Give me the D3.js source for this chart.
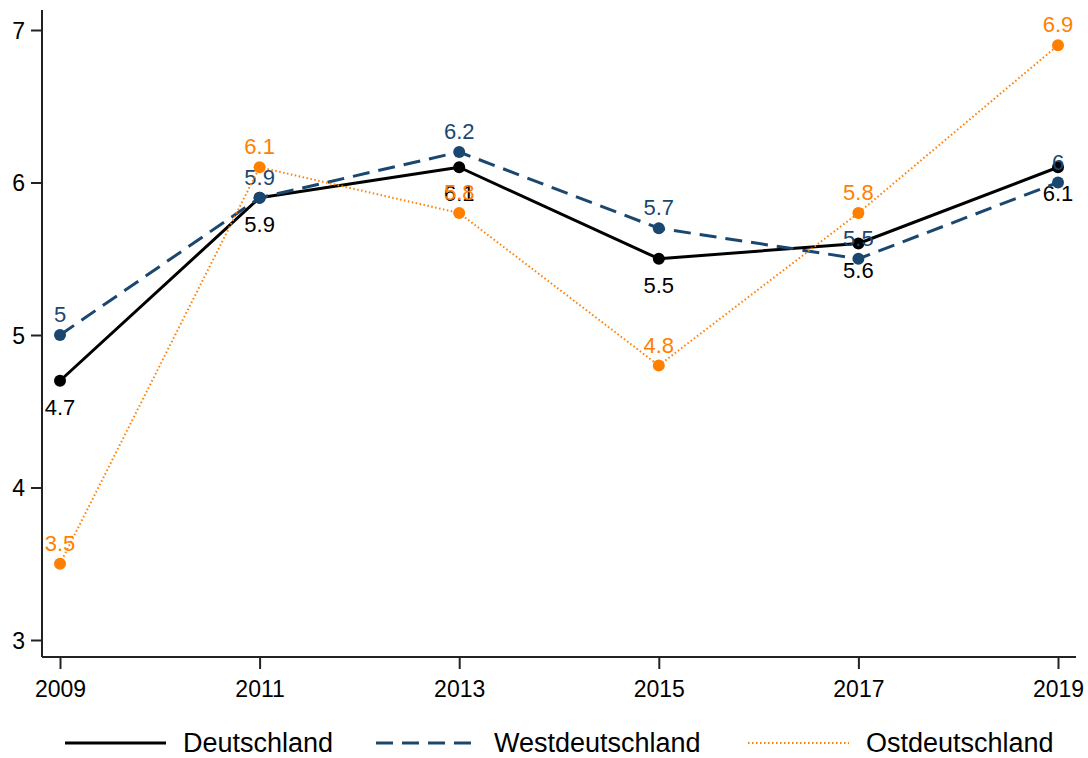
<!DOCTYPE html>
<html>
<head>
<meta charset="utf-8">
<script src="https://cdn.jsdelivr.net/npm/d3@7"></script>
<style>
    body { margin: 0; background: #fff; }
    svg { display: block; font-family: "Liberation Sans", Arial, sans-serif; }
</style>
</head>
<body>
<svg id="chart" width="1088" height="758"></svg>
<script>
// data
const years = [2009, 2011, 2013, 2015, 2017, 2019];
const deutschland = [4.7, 5.9, 6.1, 5.5, 5.6, 6.1];
const westdeutschland = [5.0, 5.9, 6.2, 5.7, 5.5, 6.0];
const ostdeutschland = [3.5, 6.1, 5.8, 4.8, 5.8, 6.9];
const yTicks = [3, 4, 5, 6, 7];

const series = [
    { name: "Deutschland", values: deutschland, color: "#000000", width: 3, dash: null, labelPos: "below" },
    { name: "Westdeutschland", values: westdeutschland, color: "#1a476f", width: 3, dash: "17,9", labelPos: "above" },
    { name: "Ostdeutschland", values: ostdeutschland, color: "#ff7f00", width: 2, dash: "1.5,2.5", labelPos: "above" }
];

const svg = d3.select("#chart");

const xScale = d3.scaleLinear().domain([2009, 2019]).range([60, 1058]);
const yScale = d3.scaleLinear().domain([3, 7]).range([640, 30]);

// axes
const xAxis = svg.append("g")
    .attr("transform", "translate(0,657)")
    .call(d3.axisBottom(xScale).tickValues(years).tickFormat(d3.format("d")).tickSize(12).tickSizeOuter(0))
    .attr("font-size", 23)
    .attr("font-family", "Liberation Sans, Arial, sans-serif");
xAxis.select(".domain").attr("d", "M42,0H1076").attr("stroke", "#222").attr("stroke-width", 2);
xAxis.selectAll(".tick line").attr("stroke", "#222").attr("stroke-width", 2);
xAxis.selectAll(".tick text").attr("fill", "#000").attr("y", 40).attr("dy", 0);

const yAxis = svg.append("g")
    .attr("transform", "translate(42,0)")
    .call(d3.axisLeft(yScale).tickValues(yTicks).tickFormat(d3.format("d")).tickSize(11).tickSizeOuter(0))
    .attr("font-size", 23)
    .attr("font-family", "Liberation Sans, Arial, sans-serif");
yAxis.select(".domain").attr("d", "M0,10V657").attr("stroke", "#222").attr("stroke-width", 2);
yAxis.selectAll(".tick line").attr("stroke", "#222").attr("stroke-width", 2);
yAxis.selectAll(".tick text").attr("fill", "#000").attr("x", -17).attr("dy", "0.36em");

const line = d3.line()
    .x((d, i) => xScale(years[i]))
    .y(d => yScale(d));

const fmt = v => d3.format("~g")(v);

series.forEach(s => {
    const g = svg.append("g").attr("class", "series");

    g.append("path")
        .datum(s.values)
        .attr("d", line)
        .attr("fill", "none")
        .attr("stroke", s.color)
        .attr("stroke-width", s.width)
        .attr("stroke-dasharray", s.dash)
        .attr("stroke-linejoin", "round");

    g.selectAll("circle")
        .data(s.values)
        .join("circle")
        .attr("cx", (d, i) => xScale(years[i]))
        .attr("cy", d => yScale(d))
        .attr("r", 6)
        .attr("fill", s.color);

    g.selectAll("text")
        .data(s.values)
        .join("text")
        .attr("x", (d, i) => xScale(years[i]))
        .attr("y", d => yScale(d) + (s.labelPos === "above" ? -13 : 34))
        .attr("text-anchor", "middle")
        .attr("font-size", 22)
        .attr("fill", s.color)
        .text(d => fmt(d));
});

// legend
const legendX = [65, 376, 748];
const legend = svg.append("g").attr("class", "legend");
series.forEach((s, i) => {
    legend.append("line")
        .attr("x1", legendX[i])
        .attr("x2", legendX[i] + 101)
        .attr("y1", 743)
        .attr("y2", 743)
        .attr("stroke", s.color)
        .attr("stroke-width", s.width)
        .attr("stroke-dasharray", s.dash);
    legend.append("text")
        .attr("x", legendX[i] + 118)
        .attr("y", 752)
        .attr("font-size", 27)
        .attr("fill", "#000")
        .text(s.name);
});
</script>
</body>
</html>
